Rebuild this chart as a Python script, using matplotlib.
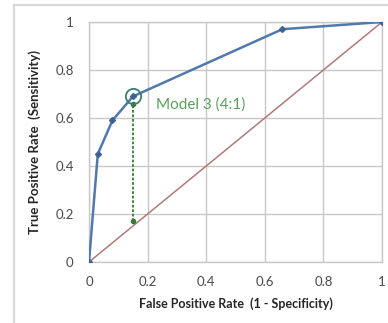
import matplotlib
matplotlib.use("Agg")
import matplotlib.pyplot as plt
from matplotlib.lines import Line2D

# ROC curve points
fpr = [0.0, 0.03, 0.08, 0.15, 0.66, 1.0]
tpr = [0.0, 0.45, 0.59, 0.69, 0.97, 1.0]

# chance diagonal
diag_x = [0.0, 1.0]
diag_y = [0.0, 1.0]

# highlighted model and its vertical gap to the diagonal
model_label = "Model 3 (4:1)"
model_x = 0.15
model_y = 0.69
gap_top = 0.66
gap_bottom = 0.17

ticks = [0, 0.2, 0.4, 0.6, 0.8, 1.0]
tick_labels = ["0", "0.2", "0.4", "0.6", "0.8", "1"]

plt.rcParams["font.family"] = ["Lato", "DejaVu Sans"]

fig = plt.figure(figsize=(3.88, 3.23), dpi=100)
fig.patch.set_facecolor("white")

# outer chart frame (left and top edges fall inside the canvas)
fx = 14 / 388
fy = 1 - 5 / 323
fig.lines.append(Line2D([fx, fx], [0, fy], transform=fig.transFigure,
                        color="#d9d9d9", linewidth=1.6))
fig.lines.append(Line2D([fx, 1], [fy, fy], transform=fig.transFigure,
                        color="#d9d9d9", linewidth=1.6))

ax = fig.add_axes([89 / 388, 61 / 323, 293 / 388, 240 / 323])
ax.set_xlim(0, 1)
ax.set_ylim(0, 1)
ax.set_xticks(ticks)
ax.set_yticks(ticks)
ax.set_xticklabels(tick_labels)
ax.set_yticklabels(tick_labels)
ax.tick_params(length=0, labelsize=9.5, colors="#4a4a4a")
ax.tick_params(axis="x", pad=10)
ax.tick_params(axis="y", pad=11)
ax.grid(True, color="#c8c8c8", linewidth=1.0)
for s in ax.spines.values():
    s.set_color("#c8c8c8")
    s.set_linewidth(1.0)
ax.set_axisbelow(True)

ax.plot(diag_x, diag_y, color="#b07a78", linewidth=1.1, zorder=2)
ax.plot(fpr, tpr, color="#5279ab", linewidth=1.8, marker="D",
        markersize=3, markerfacecolor="#3d6294", markeredgecolor="#3d6294",
        zorder=3)

ax.plot([model_x, model_x], [gap_bottom, gap_top], color="#2f7d2f",
        linestyle=(0, (1.5, 1)), linewidth=1.3, marker="o", markersize=3,
        zorder=4)
ax.plot([model_x], [model_y], marker="o", markersize=11, markerfacecolor="none",
        markeredgecolor="#3b7f72", markeredgewidth=1.3, zorder=5)
ax.text(0.23, 0.655, model_label, color="#5aa05a", fontsize=11,
        va="center", ha="left")

ax.set_xlabel("False Positive Rate  (1 - Specificity)", fontsize=9,
              fontweight="bold", color="#262626", labelpad=7)
ax.set_ylabel("True Positive Rate  (Sensitivity)", fontsize=9.5,
              fontweight="bold", color="#262626", labelpad=10)

fig.savefig("out.png", dpi=100)
